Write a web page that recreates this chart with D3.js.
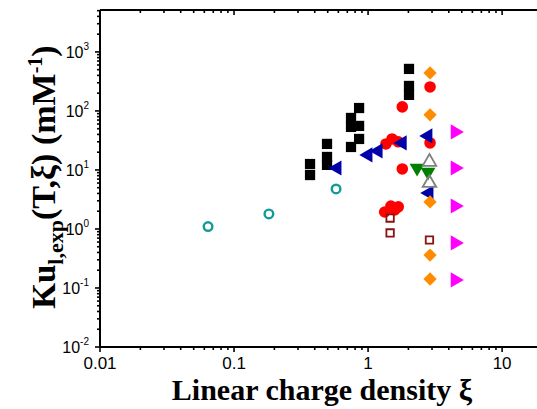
<!DOCTYPE html>
<html>
<head>
<meta charset="utf-8">
<script src="https://cdn.jsdelivr.net/npm/d3@7"></script>
<style>
  body { margin: 0; background: #fff; }
  svg { display: block; }
</style>
</head>
<body>
<svg id="chart" width="537" height="409"></svg>
<script>
// data (x = linear charge density, y = Ku)
const tealX = [0.064, 0.182, 0.577];
const tealY = [1.1, 1.8, 4.76];

const blackX = [0.369, 0.369, 0.494, 0.494, 0.494, 0.746, 0.746, 0.746, 0.857, 0.857, 0.857, 2.02, 2.02, 2.02];
const blackY = [12.6, 8.2, 27.6, 16.6, 12.2, 76, 53.6, 24.5, 112, 55.7, 33.5, 515, 265, 187];

const redX = [2.9, 1.8, 2.9, 1.8, 1.36, 1.51, 1.68, 1.33, 1.48, 1.68, 1.58];
const redY = [255, 117, 28.7, 10.4, 27.6, 33.5, 30, 1.94, 2.45, 2.37, 2.1];

const blueX = [0.587, 1.0, 1.19, 1.8, 2.8, 2.85];
const blueY = [10.8, 18, 21, 28.7, 37.7, 4.07];

const sqX = [1.46, 1.46, 2.87];
const sqY = [1.53, 0.855, 0.65];

const greenX = [2.32, 2.8];
const greenY = [10.8, 9.25];

const grayX = [2.87, 2.87];
const grayY = [13.7, 6.0];

const orangeX = [2.9, 2.9, 2.9, 2.9, 2.9];
const orangeY = [440, 86, 2.87, 0.362, 0.142];

const magentaX = [4.46, 4.46, 4.46, 4.46, 4.46];
const magentaY = [44, 10.8, 2.45, 0.58, 0.137];

const xTickLabels = ["0.01", "0.1", "1", "10"];
const yTickExps = [-2, -1, 0, 1, 2, 3];

const svg = d3.select("#chart");

const x = d3.scaleLog().domain([0.01, 17]).range([100, 533]);
const y = d3.scaleLog().domain([0.01, 5130]).range([347, 10]);

const isMajor = v => Math.abs(Math.log10(v) - Math.round(Math.log10(v))) < 1e-6;

// frame: left, bottom, top (right side is cut off in the original)
svg.append("line").attr("x1", 100).attr("x2", 537).attr("y1", 347).attr("y2", 347)
  .attr("stroke", "#000").attr("stroke-width", 2);
svg.append("line").attr("x1", 100).attr("x2", 537).attr("y1", 10).attr("y2", 10)
  .attr("stroke", "#000").attr("stroke-width", 2);
svg.append("line").attr("x1", 100).attr("x2", 100).attr("y1", 10).attr("y2", 347)
  .attr("stroke", "#000").attr("stroke-width", 2);

// x ticks
let xt = x.ticks().filter(v => x(v) <= 533);
svg.selectAll(".xtb").data(xt).join("line")
  .attr("x1", d => x(d)).attr("x2", d => x(d))
  .attr("y1", 347).attr("y2", d => 347 + (isMajor(d) ? 5 : 3))
  .attr("stroke", "#000").attr("stroke-width", 1.6);
svg.selectAll(".xtt").data(xt).join("line")
  .attr("x1", d => x(d)).attr("x2", d => x(d))
  .attr("y1", 10).attr("y2", d => 10 + (isMajor(d) ? 5 : 3))
  .attr("stroke", "#000").attr("stroke-width", 1.6);

svg.selectAll(".xl").data(xTickLabels).join("text")
  .attr("x", d => x(+d)).attr("y", 369)
  .attr("text-anchor", "middle")
  .attr("font-family", "Liberation Sans, Arial, sans-serif")
  .attr("font-size", 17)
  .text(d => d);

// y ticks
let yt = y.ticks().filter(v => y(v) >= 10);
svg.selectAll(".yt").data(yt).join("line")
  .attr("x1", d => 100 - (isMajor(d) ? 5 : 3)).attr("x2", 100)
  .attr("y1", d => y(d)).attr("y2", d => y(d))
  .attr("stroke", "#000").attr("stroke-width", 1.6);

const yl = svg.selectAll(".yl").data(yTickExps).join("text")
  .attr("x", 89).attr("y", d => y(Math.pow(10, d)) + 6)
  .attr("text-anchor", "end")
  .attr("font-family", "Liberation Sans, Arial, sans-serif")
  .attr("font-size", 16);
yl.append("tspan").text("10");
yl.append("tspan").attr("dy", -8).attr("font-size", 10).text(d => d);

// markers
function sym(xs, ys, type, size, fill, stroke, sw, rot) {
  const g = svg.append("g");
  g.selectAll("path").data(xs.map((d, i) => [d, ys[i]])).join("path")
    .attr("d", d3.symbol().type(type).size(size))
    .attr("transform", d => `translate(${x(d[0])},${y(d[1])}) rotate(${rot || 0})`)
    .attr("fill", fill).attr("stroke", stroke || "none").attr("stroke-width", sw || 0);
}

sym(blackX, blackY, d3.symbolSquare, 105, "#000");
sym(redX, redY, d3.symbolCircle, 105, "#ff0000");
sym(blueX, blueY, d3.symbolTriangle, 100, "#0000a8", null, 0, -90);
sym(sqX, sqY, d3.symbolSquare, 55, "none", "#8b1010", 1.8);
sym(greenX, greenY, d3.symbolTriangle, 95, "#008000", null, 0, 180);
sym(grayX, grayY, d3.symbolTriangle, 80, "none", "#808080", 1.8);
sym(orangeX, orangeY, d3.symbolSquare, 88, "#ff8c00", null, 0, 45);
sym(magentaX, magentaY, d3.symbolTriangle, 100, "#ff00ff", null, 0, 90);
sym(tealX, tealY, d3.symbolCircle, 58, "none", "#159a9a", 2.4);

// axis titles
svg.append("text")
  .attr("x", 322).attr("y", 400)
  .attr("text-anchor", "middle")
  .attr("font-family", "Liberation Serif, Times New Roman, serif")
  .attr("font-weight", "bold")
  .attr("font-size", 30)
  .text("Linear charge density ξ");

const yt2 = svg.append("text")
  .attr("transform", "translate(55,177) rotate(-90)")
  .attr("text-anchor", "middle")
  .attr("font-family", "Liberation Serif, Times New Roman, serif")
  .attr("font-weight", "bold")
  .attr("font-size", 34);
yt2.append("tspan").attr("font-size", 33).text("Ku");
yt2.append("tspan").attr("font-size", 22).attr("dy", 8).text("l,exp");
yt2.append("tspan").attr("dy", -8).text("(T,ξ) (mM");
yt2.append("tspan").attr("font-size", 20).attr("dy", -13).text("-1");
yt2.append("tspan").attr("dy", 13).text(")");
</script>
</body>
</html>
